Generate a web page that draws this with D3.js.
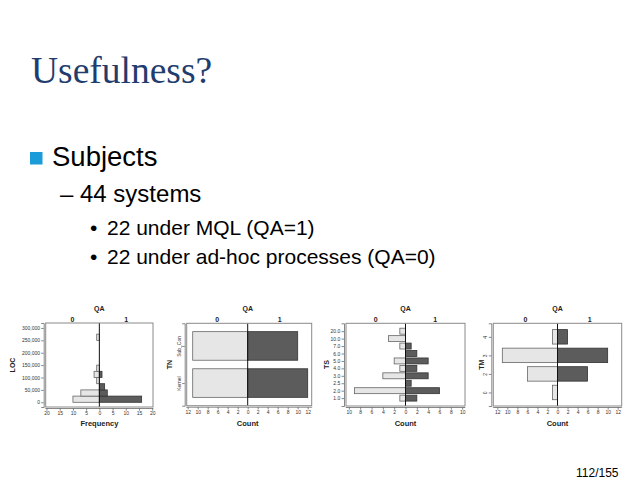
<!DOCTYPE html>
<html><head><meta charset="utf-8">
<script src="https://cdn.jsdelivr.net/npm/d3@7/dist/d3.min.js"></script>
<style>body{margin:0;background:#fff}</style>
</head><body><svg id="s" width="638" height="493"></svg>
<script>
// ---------- DATA ----------
const locBinStarts = [0,25000,50000,75000,100000,125000,150000,175000,200000,225000,250000];
const locBinSize = 25000;
const locQA0 = [10,7,0,1,2,1,0,0,0,0,1];
const locQA1 = [16,3,2,0,1,0,0,0,0,0,0];
const locTicks = [0,50000,100000,150000,200000,250000,300000];
const freqTicks = [-20,-15,-10,-5,0,5,10,15,20];

const tnCategories = ["Sub_Con","Kernel"];
const tnQA0 = [11,11];
const tnQA1 = [10,12];

const tsCategories = ["20.0","10.0","7.0","6.0","5.0","4.0","3.0","2.5","2.0","1.0"];
const tsQA0 = [1,3,1,0,2,1,4,0,9,1];
const tsQA1 = [0,0,1,2,4,2,4,1,6,2];

const tmCategories = ["4","3","2","0"];
const tmQA0 = [1,11,6,1];
const tmQA1 = [2,10,6,0];

const count12Ticks = [-12,-10,-8,-6,-4,-2,0,2,4,6,8,10,12];
const count10Ticks = [-10,-8,-6,-4,-2,0,2,4,6,8,10];

const titleText = "Usefulness?";
const bullet1 = "Subjects";
const bullet2 = "44 systems";
const bullet3 = ["22 under MQL (QA=1)","22 under ad-hoc processes (QA=0)"];
const pageText = "112/155";

// ---------- SLIDE TEXT ----------
const svg = d3.select("#s");
const SANS = "'Liberation Sans', Arial, sans-serif";
svg.append("text").attr("x",31).attr("y",83).text(titleText)
  .attr("font-family","'Liberation Serif','Times New Roman',serif").attr("font-size",37.5).attr("fill","#1f3d6d");
svg.append("rect").attr("x",30).attr("y",152).attr("width",12.5).attr("height",12.5).attr("fill","#1b9bd7");
svg.append("text").attr("x",52).attr("y",166).text(bullet1).attr("font-family",SANS).attr("font-size",27.5).attr("fill","#000");
svg.append("text").attr("x",60).attr("y",202).text("\u2013").attr("font-family",SANS).attr("font-size",24).attr("fill","#000");
svg.append("text").attr("x",80).attr("y",202).text(bullet2).attr("font-family",SANS).attr("font-size",24).attr("fill","#000");
bullet3.forEach((t,i)=>{
  const y = 235 + i*29;
  svg.append("text").attr("x",90).attr("y",y).text("\u2022").attr("font-family",SANS).attr("font-size",21).attr("fill","#000");
  svg.append("text").attr("x",107).attr("y",y).text(t).attr("font-family",SANS).attr("font-size",21).attr("fill","#000");
});
svg.append("text").attr("x",576).attr("y",477).text(pageText).attr("font-family",SANS).attr("font-size",12).attr("fill","#000");

// ---------- PANELS ----------
const LIGHT = "#e6e6e6", DARK = "#5c5c5c";
function panel(cfg){
  const g = svg.append("g");
  const {left,right,top,bottom} = cfg;
  const x = d3.scaleLinear().domain(cfg.xDomain).range([left,right]);
  // headers
  g.append("text").attr("x",x(0)).attr("y",311).attr("text-anchor","middle").text("QA")
    .attr("font-family",SANS).attr("font-weight","bold").attr("font-size",7).attr("fill","#222");
  g.append("text").attr("x",(left+x(0))/2).attr("y",321.5).attr("text-anchor","middle").text("0")
    .attr("font-family",SANS).attr("font-weight","bold").attr("font-size",7).attr("fill","#222");
  g.append("text").attr("x",(right+x(0))/2).attr("y",321.5).attr("text-anchor","middle").text("1")
    .attr("font-family",SANS).attr("font-weight","bold").attr("font-size",7).attr("fill","#222");

  // bars
  const bars = cfg.bars; // {y0,y1,v,side}
  g.selectAll("rect.bar").data(bars.filter(d=>d.v>0)).join("rect")
    .attr("x",d=> d.side===0 ? x(-d.v) : x(0))
    .attr("width",d=> Math.abs(x(d.v)-x(0)))
    .attr("y",d=>Math.min(d.y0,d.y1)).attr("height",d=>Math.abs(d.y1-d.y0))
    .attr("fill",d=>d.side===0?LIGHT:DARK)
    .attr("stroke",d=>d.side===0?"#666":"#333").attr("stroke-width",0.8);
  // center line
  g.append("line").attr("x1",x(0)).attr("x2",x(0)).attr("y1",top).attr("y2",bottom)
    .attr("stroke","#111").attr("stroke-width",1);
  // frame
  g.append("rect").attr("x",left).attr("y",top).attr("width",right-left).attr("height",bottom-top)
    .attr("fill","none").attr("stroke","#8a8a8a").attr("stroke-width",1);

  // x axis
  const xa = g.append("g").attr("transform",`translate(0,${bottom+1.5})`)
    .call(d3.axisBottom(x).tickValues(cfg.xTicks).tickFormat(d=>Math.abs(d)).tickSize(2.2).tickPadding(1.2));
  xa.selectAll("text").attr("font-family",SANS).attr("font-size",5).attr("fill","#333");
  xa.selectAll("line,path").attr("stroke","#555").attr("stroke-width",0.7);
  xa.select("path").attr("d",`M${left},0.5V0H${right}V0.5`);
  g.append("text").attr("x",x(0)).attr("y",426).attr("text-anchor","middle").text(cfg.xTitle)
    .attr("font-family",SANS).attr("font-weight","bold").attr("font-size",7.5).attr("fill","#222");

  // y axis
  const ya = g.append("g").attr("transform",`translate(${left-2},0)`).call(cfg.yAxis.tickSize(2.5).tickPadding(1.2));
  ya.selectAll("line,path").attr("stroke","#555").attr("stroke-width",0.7);
  ya.selectAll("text").attr("font-family",SANS).attr("font-size",5).attr("fill","#333");
  if(cfg.rotateY){
    ya.selectAll("text").attr("transform","rotate(-90)").attr("x",0).attr("y",-4.2)
      .attr("dy",0).attr("text-anchor","middle");
  }
  g.append("text").attr("transform",`translate(${cfg.yTitleX},${(top+bottom)/2}) rotate(-90)`)
    .attr("text-anchor","middle").attr("dy","0.35em").text(cfg.yTitle)
    .attr("font-family",SANS).attr("font-weight","bold").attr("font-size",7).attr("fill","#222");
}

// Panel 1: LOC histogram
(function(){
  const top=323, bottom=407;
  const y = d3.scaleLinear().domain([-19000,320000]).range([bottom,top]);
  const bars = [];
  locBinStarts.forEach((b,i)=>{
    bars.push({y0:y(b),y1:y(b+locBinSize),v:locQA0[i],side:0});
    bars.push({y0:y(b),y1:y(b+locBinSize),v:locQA1[i],side:1});
  });
  panel({left:45.7,right:153,top,bottom,xDomain:[-20.3,20.3],xTicks:freqTicks,xTitle:"Frequency",
    bars, yAxis:d3.axisLeft(y).tickValues(locTicks).tickFormat(d3.format(",")), yTitle:"LOC", yTitleX:13});
})();

function catPanel(o){
  const y = d3.scalePoint().domain(o.cats).range([o.top,o.bottom]).padding(o.pad);
  const h = y.step()*o.frac;
  const bars = [];
  o.cats.forEach((c,i)=>{
    bars.push({y0:y(c)-h/2,y1:y(c)+h/2,v:o.q0[i],side:0});
    bars.push({y0:y(c)-h/2,y1:y(c)+h/2,v:o.q1[i],side:1});
  });
  panel({left:o.left,right:o.right,top:o.top,bottom:o.bottom,xDomain:o.xDomain,xTicks:o.xTicks,xTitle:"Count",
    bars, yAxis:d3.axisLeft(y), rotateY:o.rotateY, yTitle:o.yTitle, yTitleX:o.yTitleX});
}
catPanel({cats:tnCategories,q0:tnQA0,q1:tnQA1,left:186.7,right:311.7,top:323.3,bottom:405.7,pad:0.61,frac:0.77,
  xDomain:[-12.2,12.8],xTicks:count12Ticks,rotateY:true,yTitle:"TN",yTitleX:170});
catPanel({cats:tsCategories,q0:tsQA0,q1:tsQA1,left:346,right:465,top:323.3,bottom:406,pad:1.06,frac:0.8,
  xDomain:[-10.5,10.5],xTicks:count10Ticks,rotateY:false,yTitle:"TS",yTitleX:327});
catPanel({cats:tmCategories,q0:tmQA0,q1:tmQA1,left:493.3,right:621.7,top:323.3,bottom:406,pad:0.73,frac:0.78,
  xDomain:[-12.8,12.8],xTicks:count12Ticks,rotateY:true,yTitle:"TM",yTitleX:482});
</script>
</body></html>
